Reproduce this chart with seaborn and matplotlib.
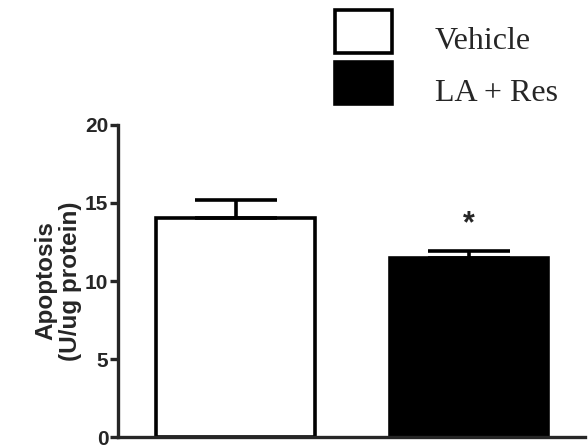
import matplotlib
matplotlib.use("Agg")
import matplotlib.pyplot as plt
import seaborn as sns
import numpy as np
import pandas as pd

groups = ["Vehicle", "LA + Res"]
means = [14.05, 11.45]
sem = [1.15, 0.45]
bar_colors = ["white", "black"]
y_ticks = [0, 5, 10, 15, 20]

sns.set_style("ticks")
plt.rcParams["font.family"] = ["Liberation Sans", "DejaVu Sans"]

df = pd.DataFrame({"group": groups, "apoptosis": means})

fig = plt.figure(figsize=(5.88, 4.48), dpi=100)
ax = fig.add_axes([0.2007, 0.0245, 0.795, 0.6965])

sns.barplot(data=df, x="group", y="apoptosis", hue="group", palette=bar_colors,
            edgecolor="black", linewidth=2.6, width=0.68, legend=False, ax=ax)

# upward-only error bars like the original
ax.errorbar(np.arange(len(groups)), means, yerr=[np.zeros(len(sem)), sem],
            fmt="none", ecolor="black", elinewidth=2.6, capsize=29.5, capthick=2.6, zorder=1)

ax.text(1, means[1] + sem[1] + 0.8, "*", ha="center", va="bottom",
        fontsize=22, fontweight="bold")

ax.set_ylim(0, 20)
ax.set_xlim(-0.505, 1.5)
ax.set_yticks(y_ticks)
ax.set_yticklabels([str(t) for t in y_ticks], fontweight="bold", fontsize=15)
ax.set_xticks([])
ax.set_xlabel("")
ax.set_ylabel("Apoptosis\n(U/ug protein)", fontweight="bold", fontsize=17.5,
              linespacing=1.1, labelpad=2)
sns.despine(ax=ax)
for s in ["left", "bottom"]:
    ax.spines[s].set_linewidth(2.4)
ax.tick_params(axis="y", width=2.4, length=6, pad=1)

# legend boxes with serif labels
handles = [plt.Rectangle((0, 0), 1, 1, facecolor=c, edgecolor="black", linewidth=2.6) for c in bar_colors]
leg = fig.legend(handles, groups, loc="upper left", bbox_to_anchor=(0.554, 0.998),
                 frameon=False, prop={"family": "Liberation Serif", "size": 23},
                 handlelength=1.77, handleheight=1.65, handletextpad=1.35, labelspacing=0.3,
                 borderaxespad=0.0, borderpad=0.3)
for t in leg.get_texts():
    t.set_va("center")

fig.savefig("out.png", dpi=100)
